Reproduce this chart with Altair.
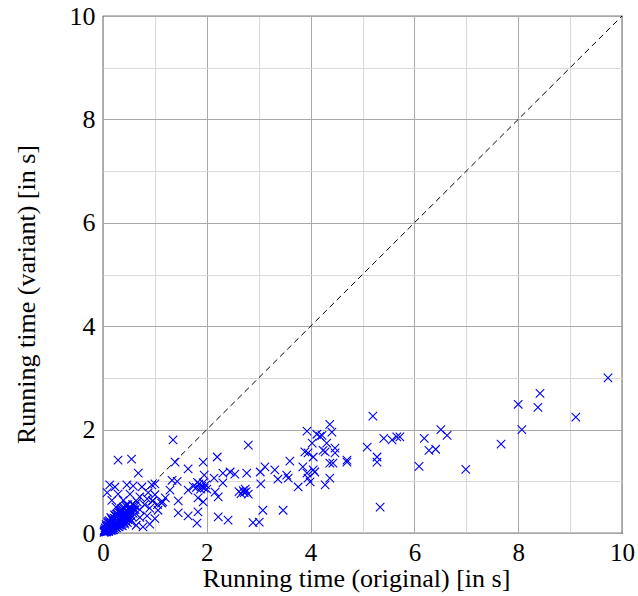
import altair as alt
import pandas as pd

# --- data ---
orig_time = [
    # dense cluster near origin
    0.02,0.03,0.04,0.05,0.05,0.06,0.07,0.08,0.08,0.09,0.10,0.11,0.11,0.12,0.13,0.14,0.14,0.15,0.16,0.17,
    0.18,0.18,0.19,0.20,0.21,0.22,0.22,0.23,0.24,0.25,0.26,0.27,0.28,0.29,0.30,0.31,0.32,0.33,0.34,0.35,
    0.36,0.37,0.38,0.39,0.40,0.41,0.42,0.43,0.44,0.45,0.46,0.47,0.48,0.49,0.50,0.52,0.53,0.55,0.56,0.58,
    0.60,0.04,0.06,0.09,0.12,0.15,0.03,0.16,0.20,0.25,0.29,0.34,0.10,
    0.02,0.05,0.08,0.12,0.15,0.18,0.21,0.24,0.27,0.30,0.33,0.36,0.40,0.44,0.48,0.52,0.57,0.62,
    0.07,0.11,0.16,0.20,0.26,0.31,0.37,0.42,0.47,0.54,0.13,0.19,0.23,0.28,0.35,0.39,0.45,0.51,
    0.06,0.10,0.17,0.22,0.33,0.43,
    # sparse crosses around the cluster
    0.13,0.23,0.46,0.58,0.75,0.94,0.08,0.29,0.52,0.71,0.87,1.00,0.17,0.39,0.66,0.85,0.96,1.13,
    0.52,0.71,0.90,1.06,0.71,0.85,1.00,0.64,0.77,0.90,0.95,1.05,1.15,1.20,0.62,0.35,0.45,0.25,0.80,
    0.68,1.00,0.29,0.55,
    # 1.2 .. 2.6
    1.35,2.20,1.93,1.39,1.64,1.95,2.14,2.31,2.45,2.54,2.31,1.33,1.43,1.29,1.64,
    1.74,1.80,1.85,1.88,1.90,1.95,1.98,2.00,1.82,1.93,
    2.16,2.22,1.83,1.45,1.93,1.45,1.64,1.83,1.81,2.22,2.41,
    # 2.6 .. 3.8
    2.62,2.66,2.70,2.72,2.76,2.80,2.74,
    2.80,2.77,3.03,3.12,3.31,3.60,3.37,3.54,3.57,3.04,3.76,3.08,3.47,3.01,2.89,
    # 3.8 .. 4.8
    3.93,4.12,4.18,4.03,3.89,3.95,4.05,4.24,3.85,4.05,4.08,3.93,3.95,3.99,4.28,
    4.37,4.41,4.22,4.31,4.28,4.47,4.47,4.37,4.43,4.70,4.70,4.37,
    # 5 .. 7
    5.20,5.41,5.57,5.66,5.09,5.28,5.28,5.34,5.72,6.51,6.63,6.19,6.28,6.41,6.09,6.99,
    # 7.5 .. 10
    7.67,9.73,8.42,8.00,8.38,9.11,8.07,
]
variant_time = [
    0.01,0.02,0.03,0.02,0.05,0.04,0.06,0.03,0.07,0.05,0.08,0.04,0.10,0.07,0.11,0.05,0.09,0.13,0.08,0.12,
    0.06,0.15,0.10,0.14,0.18,0.09,0.13,0.16,0.20,0.11,0.15,0.19,0.23,0.13,0.17,0.21,0.26,0.15,0.19,0.24,
    0.29,0.18,0.22,0.27,0.31,0.20,0.25,0.33,0.28,0.22,0.36,0.30,0.26,0.40,0.33,0.28,0.37,0.42,0.31,0.38,
    0.45,0.10,0.16,0.20,0.24,0.30,0.06,0.20,0.25,0.32,0.36,0.40,0.15,
    0.04,0.08,0.12,0.17,0.21,0.25,0.29,0.33,0.36,0.40,0.44,0.47,0.50,0.52,0.55,0.50,0.55,0.52,
    0.02,0.03,0.05,0.06,0.10,0.12,0.14,0.17,0.20,0.22,0.18,0.24,0.28,0.33,0.45,0.48,0.42,0.44,
    0.14,0.22,0.27,0.35,0.38,0.35,
    0.93,0.89,0.93,0.91,0.89,0.93,0.78,0.75,0.75,0.70,0.78,0.74,0.63,0.63,0.60,0.66,0.62,0.58,
    0.46,0.45,0.48,0.44,0.30,0.33,0.28,0.15,0.12,0.17,0.62,0.55,0.60,0.68,0.45,0.35,0.55,0.50,0.55,
    1.16,0.95,1.41,1.43,
    1.80,1.47,1.37,1.37,1.24,1.12,1.06,1.16,1.18,1.14,0.97,1.02,1.00,0.83,0.83,
    0.90,0.88,0.95,0.85,0.90,0.87,0.93,0.85,0.98,0.97,
    0.79,0.70,0.68,0.62,0.60,0.39,0.33,0.41,0.19,0.31,0.25,
    0.80,0.76,0.82,0.78,0.80,0.75,0.85,
    1.70,1.16,1.18,1.28,1.22,1.39,1.04,1.12,1.06,0.95,0.89,0.44,0.44,0.21,0.20,
    1.97,1.91,1.87,1.74,1.57,1.55,1.47,1.60,1.28,1.22,1.18,1.16,1.06,0.99,0.93,
    2.10,1.95,1.89,1.74,1.57,1.64,1.55,1.35,1.35,1.41,1.37,1.06,
    2.26,1.83,1.80,1.86,1.66,1.47,1.37,0.50,1.86,2.00,1.89,1.83,1.60,1.62,1.29,1.23,
    1.72,3.00,2.70,2.49,2.43,2.24,2.00,
]
tick_values = [0, 1, 2, 3, 4, 5, 6, 7, 8, 9, 10]
diag_x = [0, 10]
diag_y = [0, 10]

pts = pd.DataFrame({"orig": orig_time, "variant": variant_time})
diag = pd.DataFrame({"orig": diag_x, "variant": diag_y})

FONT = "Liberation Serif"
grid_color = {"condition": {"test": "datum.value % 2 === 0", "value": "#a8a8a8"}, "value": "#d9d9d9"}
label_expr = "datum.value % 2 === 0 ? datum.label : ''"

xscale = alt.Scale(domain=[0, 10], nice=False, zero=True)
yscale = alt.Scale(domain=[0, 10], nice=False, zero=True)

xaxis = alt.Axis(values=tick_values, labelExpr=label_expr, grid=True, gridColor=grid_color,
                 gridWidth=1, ticks=False, domain=False, labelFont=FONT, labelFontSize=25,
                 labelColor="black", labelPadding=7, title="Running time (original) [in s]",
                 titleFont=FONT, titleFontSize=26, titleFontWeight="normal", titleColor="black",
                 titlePadding=0, titleX=253, labelFlush=False)
yaxis = alt.Axis(values=tick_values, labelExpr=label_expr, grid=True, gridColor=grid_color,
                 gridWidth=1, ticks=False, domain=False, labelFont=FONT, labelFontSize=26,
                 labelColor="black", labelPadding=8, title="Running time (variant) [in s]",
                 titleFont=FONT, titleFontSize=26, titleFontWeight="normal", titleColor="black",
                 titlePadding=30, titleY=278, labelFlush=False)

diag_line = alt.Chart(diag).mark_line(color="black", strokeDash=[6, 4], strokeWidth=1).encode(
    x=alt.X("orig:Q", scale=xscale, axis=xaxis),
    y=alt.Y("variant:Q", scale=yscale, axis=yaxis),
)

cross_path = "M-1,-1L1,1M-1,1L1,-1"
points = alt.Chart(pts).mark_point(shape=cross_path, filled=False, color="#0000ff",
                                   strokeWidth=1.1, size=72, opacity=1).encode(
    x=alt.X("orig:Q", scale=xscale),
    y=alt.Y("variant:Q", scale=yscale),
)

chart = alt.layer(diag_line, points).properties(
    width=519, height=517,
    autosize=alt.AutoSizeParams(type="none"),
    padding={"left": 103, "top": 16, "right": 16, "bottom": 63},
    background="white",
).configure_view(stroke="black", strokeWidth=1.2)

chart.save("out.html", embed_options={"renderer": "svg", "actions": False})
